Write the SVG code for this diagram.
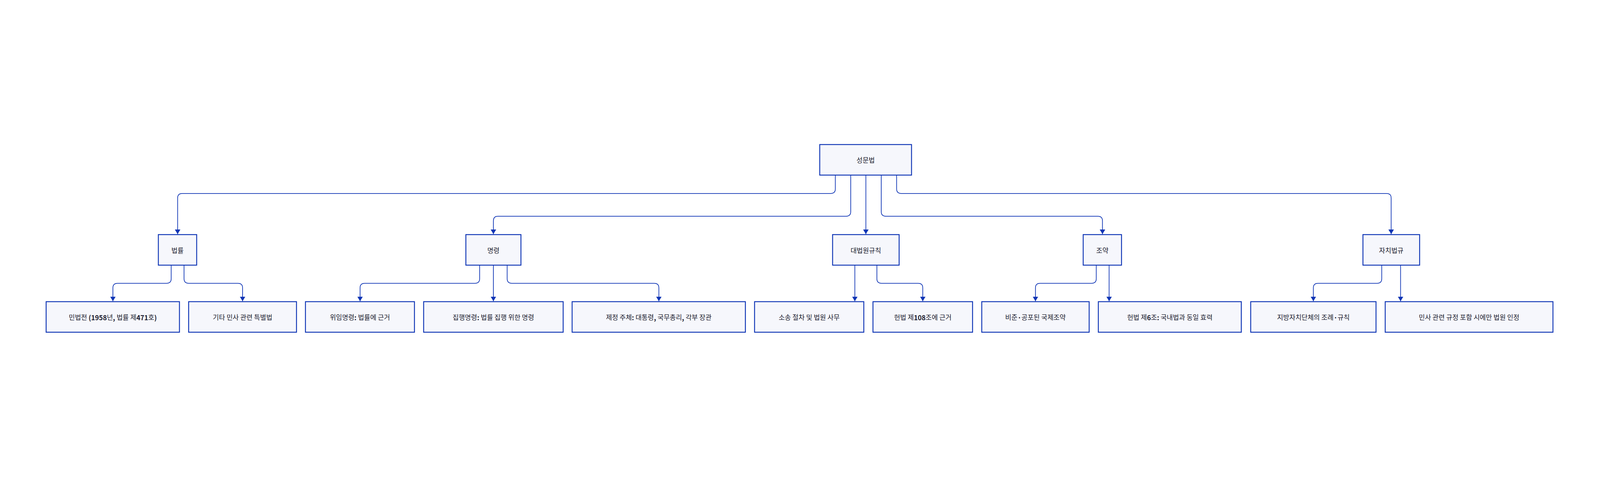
<svg xmlns="http://www.w3.org/2000/svg" width="6972" height="1220" viewBox="0 0 6972 1220" preserveAspectRatio="xMidYMid meet" style="width:100%;height:100%;max-width:6972px;max-height:1220px">
<style>
.node rect{fill:#f6f7fc;stroke:#0f35b5;stroke-width:4}
.node text{font-family:"Noto Sans CJK KR","Noto Sans",sans-serif;font-size:29px;fill:#1a1b2e;text-anchor:middle;dominant-baseline:central}
.b{font-weight:bold}
.edges path{fill:none;stroke:#0f35b5;stroke-width:3}
</style>
<defs>
<marker id="arr" viewBox="0 0 20 24" refX="20" refY="12" markerWidth="20" markerHeight="24" markerUnits="userSpaceOnUse" orient="auto">
<path d="M0,0 L20,12 L0,24 z" fill="#0f35b5"/>
</marker>
</defs>
<rect width="6972" height="1220" fill="#ffffff"/>
<g class="edges">
<path d="M3640,334 L3640,394 Q3640,414 3620,414 L794,414 Q774,414 774,434 L774,591" marker-end="url(#arr)"/>
<path d="M3707,334 L3707,493 Q3707,513 3687,513 L2170,513 Q2150,513 2150,533 L2150,591" marker-end="url(#arr)"/>
<path d="M3773,334 L3773,591" marker-end="url(#arr)"/>
<path d="M3840,334 L3840,493 Q3840,513 3860,513 L4784,513 Q4804,513 4804,533 L4804,591" marker-end="url(#arr)"/>
<path d="M3907,334 L3907,394 Q3907,414 3927,414 L6042,414 Q6062,414 6062,434 L6062,591" marker-end="url(#arr)"/>
<path d="M746,726 L746,785 Q746,805 726,805 L512,805 Q492,805 492,825 L492,883" marker-end="url(#arr)"/>
<path d="M802,726 L802,785 Q802,805 822,805 L1037,805 Q1057,805 1057,825 L1057,883" marker-end="url(#arr)"/>
<path d="M2090,726 L2090,785 Q2090,805 2070,805 L1589,805 Q1569,805 1569,825 L1569,883" marker-end="url(#arr)"/>
<path d="M2150,726 L2150,883" marker-end="url(#arr)"/>
<path d="M2210,726 L2210,785 Q2210,805 2230,805 L2851,805 Q2871,805 2871,825 L2871,883" marker-end="url(#arr)"/>
<path d="M3725,726 L3725,883" marker-end="url(#arr)"/>
<path d="M3821,726 L3821,785 Q3821,805 3841,805 L4001,805 Q4021,805 4021,825 L4021,883" marker-end="url(#arr)"/>
<path d="M4777,726 L4777,785 Q4777,805 4757,805 L4532,805 Q4512,805 4512,825 L4512,883" marker-end="url(#arr)"/>
<path d="M4833,726 L4833,883" marker-end="url(#arr)"/>
<path d="M6021,726 L6021,785 Q6021,805 6001,805 L5743,805 Q5723,805 5723,825 L5723,883" marker-end="url(#arr)"/>
<path d="M6103,726 L6103,883" marker-end="url(#arr)"/>
</g>
<g id="root" class="node"><rect x="3572" y="201" width="400" height="133"/><text x="3772" y="267.5">성문법</text></g>
<g id="law" class="node"><rect x="690" y="593" width="167" height="133"/><text x="773.5" y="659.5">법률</text></g>
<g id="order" class="node"><rect x="2030" y="593" width="240" height="133"/><text x="2150" y="659.5">명령</text></g>
<g id="court" class="node"><rect x="3628" y="593" width="290" height="133"/><text x="3773" y="659.5">대법원규칙</text></g>
<g id="treaty" class="node"><rect x="4720" y="593" width="167" height="133"/><text x="4803.5" y="659.5">조약</text></g>
<g id="local" class="node"><rect x="5939" y="593" width="247" height="133"/><text x="6062.5" y="659.5">자치법규</text></g>
<g id="law1" class="node"><rect x="201" y="885" width="581" height="133"/><text x="491.5" y="951.5">민법전 <tspan class="b">(1958</tspan>년<tspan class="b">,</tspan> 법률 제<tspan class="b">471</tspan>호<tspan class="b">)</tspan></text></g>
<g id="law2" class="node"><rect x="822" y="885" width="470" height="133"/><text x="1057" y="951.5">기타 민사 관련 특별법</text></g>
<g id="order1" class="node"><rect x="1331" y="885" width="475" height="133"/><text x="1568.5" y="951.5">위임명령<tspan class="b">:</tspan> 법률에 근거</text></g>
<g id="order2" class="node"><rect x="1846" y="885" width="608" height="133"/><text x="2150" y="951.5">집행명령<tspan class="b">:</tspan> 법률 집행 위한 명령</text></g>
<g id="order3" class="node"><rect x="2493" y="885" width="755" height="133"/><text x="2870.5" y="951.5">제정 주체<tspan class="b">:</tspan> 대통령<tspan class="b">,</tspan> 국무총리<tspan class="b">,</tspan> 각부 장관</text></g>
<g id="court1" class="node"><rect x="3288" y="885" width="476" height="133"/><text x="3526" y="951.5">소송 절차 및 법원 사무</text></g>
<g id="court2" class="node"><rect x="3804" y="885" width="434" height="133"/><text x="4021" y="951.5">헌법 제<tspan class="b">108</tspan>조에 근거</text></g>
<g id="treaty1" class="node"><rect x="4278" y="885" width="468" height="133"/><text x="4512" y="951.5">비준<tspan class="b">·</tspan>공포된 국제조약</text></g>
<g id="treaty2" class="node"><rect x="4786" y="885" width="623" height="133"/><text x="5097.5" y="951.5">헌법 제<tspan class="b">6</tspan>조<tspan class="b">:</tspan> 국내법과 동일 효력</text></g>
<g id="local1" class="node"><rect x="5450" y="885" width="546" height="133"/><text x="5723" y="951.5">지방자치단체의 조례<tspan class="b">·</tspan>규칙</text></g>
<g id="local2" class="node"><rect x="6036" y="885" width="731" height="133"/><text x="6401.5" y="951.5">민사 관련 규정 포함 시에만 법원 인정</text></g>
</svg>
